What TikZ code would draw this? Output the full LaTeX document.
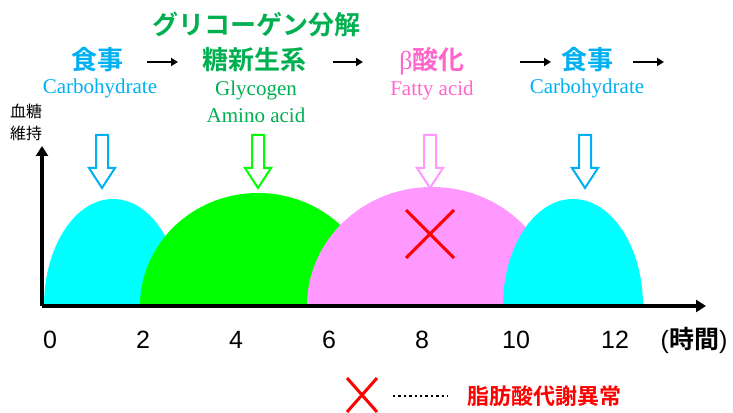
\documentclass[tikz,border=0pt]{standalone}
\usepackage{fontspec}
\usetikzlibrary{arrows.meta}
\newfontfamily\jp{Noto Sans CJK JP}[BoldFont={Noto Sans CJK JP Bold}]
\newfontfamily\tms{Liberation Serif}
\newfontfamily\arl{Liberation Sans}
\definecolor{skyb}{HTML}{00B0F0}
\definecolor{grn}{HTML}{00B050}
\definecolor{pnk}{HTML}{FF66CC}
\definecolor{hcyan}{HTML}{00FFFF}
\definecolor{hgreen}{HTML}{00FF00}
\definecolor{hpink}{HTML}{FF99FF}
\begin{document}
\begin{tikzpicture}[x=1pt,y=1pt,
  big/.style={font=\jp\bfseries\fontsize{26}{26}\selectfont, inner sep=0pt},
  sub/.style={font=\tms\fontsize{21}{21}\selectfont, inner sep=0pt},
  tick/.style={font=\arl\fontsize{25}{25}\selectfont, inner sep=0pt},
  ylab/.style={font=\jp\fontsize{16}{16}\selectfont, inner sep=0pt},
  flow/.style={line width=2.5pt, -{Triangle[length=7pt,width=8pt]}},
  axis/.style={line width=3.5pt, -{Triangle[length=10pt,width=12pt]}},
  hollow/.style={line width=2pt, fill=white, line join=miter},
  cross/.style={red, line width=3pt},
  downarr/.pic={\draw[hollow,pic actions] (-6,0) -- (6,0) -- (6,-33) -- (13,-33) -- (0,-53) -- (-13,-33) -- (-6,-33) -- cycle;}
]
\useasboundingbox (0,0) rectangle (733,412);

% humps
\fill[hcyan] (44,106) arc[start angle=180,end angle=0,x radius=69,y radius=107] -- cycle;
\fill[hgreen] (140,106) arc[start angle=180,end angle=0,x radius=118,y radius=113] -- cycle;
\fill[hpink] (307,106) arc[start angle=180,end angle=0,x radius=125,y radius=119] -- cycle;
\fill[hcyan] (503,106) arc[start angle=180,end angle=0,x radius=70,y radius=107] -- cycle;

% axes
\coordinate (O) at (42,106);
\coordinate (ytop) at (42,266);
\coordinate (xend) at (706,106);
\draw[axis] (O) -- (ytop);
\draw[axis] (O) -- (xend);

% hollow arrows
\pic[draw=skyb] at (102,277) {downarr};
\pic[draw=hgreen] at (258,277) {downarr};
\pic[draw=hpink] at (430,277) {downarr};
\pic[draw=skyb] at (585,277) {downarr};

% red cross
\draw[cross] (406,154) -- (454,202) (406,202) -- (454,154);

% top labels
\node[big, text=skyb] (shoku1) at (97,352) {食事};
\node[big, text=grn] (glyco) at (256,387) {グリコーゲン分解};
\node[big, text=grn] (tou) at (254,352) {糖新生系};
\node[big, text=pnk] (beta) at (432,351) {{\tms\mdseries β}酸化};
\node[big, text=skyb] (shoku2) at (587,352) {食事};
\node[sub, text=skyb] (carb1) at (100,324) {Carbohydrate};
\node[sub, text=grn] (glyc) at (256,322) {Glycogen};
\node[sub, text=grn] (amino) at (256,297) {Amino acid};
\node[sub, text=pnk] (fatty) at (432,322) {Fatty acid};
\node[sub, text=skyb] (carb2) at (587,324) {Carbohydrate};

% flow arrows
\coordinate (a1s) at (147,350); \coordinate (a1e) at (178,350);
\coordinate (a2s) at (333,350); \coordinate (a2e) at (363,350);
\coordinate (a3s) at (520,350); \coordinate (a3e) at (551,350);
\coordinate (a4s) at (633,350); \coordinate (a4e) at (664,350);
\draw[flow] (a1s) -- (a1e);
\draw[flow] (a2s) -- (a2e);
\draw[flow] (a3s) -- (a3e);
\draw[flow] (a4s) -- (a4e);

% y label
\node[ylab] (yl1) at (26,301) {血糖};
\node[ylab] (yl2) at (26,279) {維持};

% ticks
\node[tick] (t0) at (50,72) {0};
\node[tick] (t2) at (143,72) {2};
\node[tick] (t4) at (236,72) {4};
\node[tick] (t6) at (329,72) {6};
\node[tick] (t8) at (422,72) {8};
\node[tick] (t10) at (516,72) {10};
\node[tick] (t12) at (615,72) {12};
\node[tick] (unit) at (694,72) {({\jp\bfseries 時間})};

% legend
\coordinate (lx) at (362,17);
\draw[cross] ([shift={(-15,-17)}]lx) -- ([shift={(15,17)}]lx) ([shift={(-15,17)}]lx) -- ([shift={(15,-17)}]lx);
\node[font=\jp\bfseries\fontsize{22}{22}\selectfont, text=red, inner sep=0pt] (legend) at (544,16) {脂肪酸代謝異常};
\coordinate (d1) at (393,16); \coordinate (d2) at (448,16);
\draw[line width=2.4pt, dash pattern=on 2.4pt off 3pt] (d1) -- (d2);
\end{tikzpicture}
\end{document}
